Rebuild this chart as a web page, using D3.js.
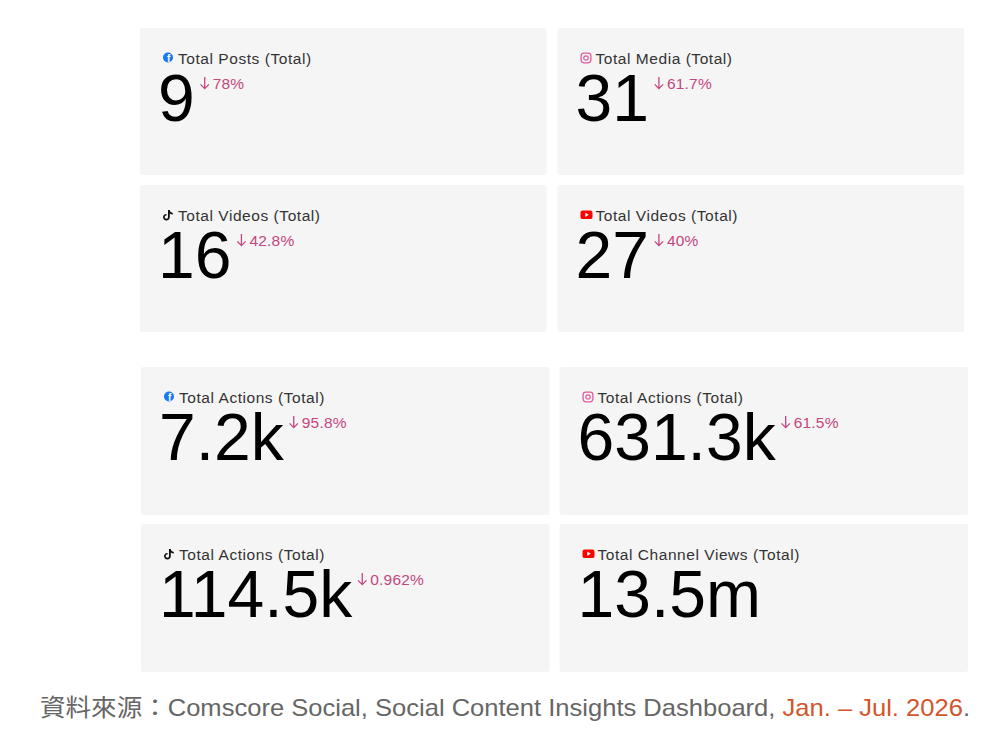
<!DOCTYPE html>
<html>
<head>
<meta charset="utf-8">
<script src="https://cdn.jsdelivr.net/npm/d3@7"></script>
<style>
  body { margin: 0; background: #fff; }
  svg { display: block; }
</style>
</head>
<body>
<div id="chart"></div>
<script>
// card data, two groups of 2x2
const platforms = ["facebook", "instagram", "tiktok", "youtube"];
const countLabels = ["Total Posts (Total)", "Total Media (Total)", "Total Videos (Total)", "Total Videos (Total)"];
const countValues = ["9", "31", "16", "27"];
const countChanges = ["78%", "61.7%", "42.8%", "40%"];
const actionLabels = ["Total Actions (Total)", "Total Actions (Total)", "Total Actions (Total)", "Total Channel Views (Total)"];
const actionValues = ["7.2k", "631.3k", "114.5k", "13.5m"];
const actionChanges = ["95.8%", "61.5%", "0.962%", null];

const width = 990, height = 744;
const pink = "#c4467f";
const font = "Liberation Sans, Arial, sans-serif";

const svg = d3.select("#chart").append("svg")
    .attr("width", width)
    .attr("height", height);

function icon(g, p) {
    if (p === "facebook") {
        g.append("circle").attr("cx", 5).attr("cy", -6).attr("r", 5).attr("fill", "#1877f2");
        g.append("text").attr("x", 5.6).attr("y", -1.6)
            .attr("text-anchor", "middle")
            .attr("font-family", font)
            .attr("font-weight", "bold").attr("font-size", 10)
            .attr("fill", "#fff").text("f");
    } else if (p === "instagram") {
        g.append("rect").attr("x", 0.6).attr("y", -10.4).attr("width", 9.8).attr("height", 9.8)
            .attr("rx", 2.8).attr("fill", "none").attr("stroke", "#e05c9a").attr("stroke-width", 1.3);
        g.append("circle").attr("cx", 5.5).attr("cy", -5.5).attr("r", 2.2)
            .attr("fill", "none").attr("stroke", "#e05c9a").attr("stroke-width", 1.2);
    } else if (p === "tiktok") {
        g.append("path")
            .attr("d", "M5,-10.5 L6.8,-10.5 C7,-8.8 8.2,-7.8 9.8,-7.6 L9.8,-5.9 C8.6,-5.9 7.6,-6.3 6.8,-6.9 L6.8,-3.5 C6.8,-1.5 5.3,0 3.4,0 C1.5,0 0,-1.5 0,-3.4 C0,-5.3 1.6,-6.8 3.6,-6.6 L3.6,-4.9 C2.6,-5.1 1.7,-4.4 1.7,-3.4 C1.7,-2.4 2.5,-1.7 3.4,-1.7 C4.4,-1.7 5,-2.5 5,-3.5 Z")
            .attr("fill", "#111");
    } else {
        g.append("rect").attr("x", 0).attr("y", -10).attr("width", 12).attr("height", 8.6)
            .attr("rx", 2.2).attr("fill", "#ff0000");
        g.append("path").attr("d", "M4.8,-8 L8.2,-5.7 L4.8,-3.4 Z").attr("fill", "#fff");
    }
}

function drawGroup(labels, values, changes, xr, yr, padX, padY) {
    const x = d3.scaleBand().domain([0, 1]).range(xr).paddingInner(padX);
    const y = d3.scaleBand().domain([0, 1]).range(yr).paddingInner(padY);

    const cards = svg.append("g").selectAll("g")
        .data(d3.range(4))
        .join("g")
        .attr("transform", i => `translate(${x(i % 2)},${y(Math.floor(i / 2))})`);

    cards.append("rect")
        .attr("width", x.bandwidth())
        .attr("height", y.bandwidth())
        .attr("rx", 3)
        .attr("fill", "#f5f5f5");

    cards.each(function (i) {
        const g = d3.select(this);
        icon(g.append("g").attr("transform", "translate(23,35.5)"), platforms[i]);

        g.append("text")
            .attr("x", 38).attr("y", 36)
            .attr("font-family", font)
            .attr("font-size", 15.5)
            .attr("letter-spacing", 0.55)
            .attr("fill", "#333")
            .text(labels[i]);

        const num = g.append("text")
            .attr("x", 18).attr("y", 93)
            .attr("font-family", font)
            .attr("font-size", 66)
            .attr("fill", "#000")
            .text(values[i]);

        if (changes[i]) {
            const w = num.node().getComputedTextLength();
            const pg = g.append("g").attr("transform", `translate(${18 + w + 5},61)`);
            pg.append("path")
                .attr("d", "M5,-12 V-0.5 M0.8,-4.6 L5,-0.4 L9.2,-4.6")
                .attr("fill", "none")
                .attr("stroke", pink)
                .attr("stroke-width", 1.3);
            pg.append("text")
                .attr("x", 13)
                .attr("font-family", font)
                .attr("font-size", 15.5)
                .attr("letter-spacing", 0.2)
                .attr("fill", pink)
                .text(changes[i]);
        }
    });
}

drawGroup(countLabels, countValues, countChanges, [140, 964], [28, 332], 0.0263, 0.0637);
drawGroup(actionLabels, actionValues, actionChanges, [141, 968], [367, 672], 0.0239, 0.0573);

// source note
const note = svg.append("text")
    .attr("x", 40).attr("y", 716)
    .attr("font-family", "Liberation Sans Narrow, Liberation Sans, Arial, 'Noto Sans CJK TC', sans-serif")
    .attr("font-size", 24)
    .attr("fill", "#666")
    .attr("textLength", 930)
    .attr("lengthAdjust", "spacingAndGlyphs");
note.append("tspan").attr("font-family", "'Noto Sans CJK TC', sans-serif").text("資料來源：");
note.append("tspan").text("Comscore Social, Social Content Insights Dashboard, ");
note.append("tspan").attr("fill", "#d2552d").text("Jan. \u2013 Jul. 2026");
note.append("tspan").text(".");
</script>
</body>
</html>
